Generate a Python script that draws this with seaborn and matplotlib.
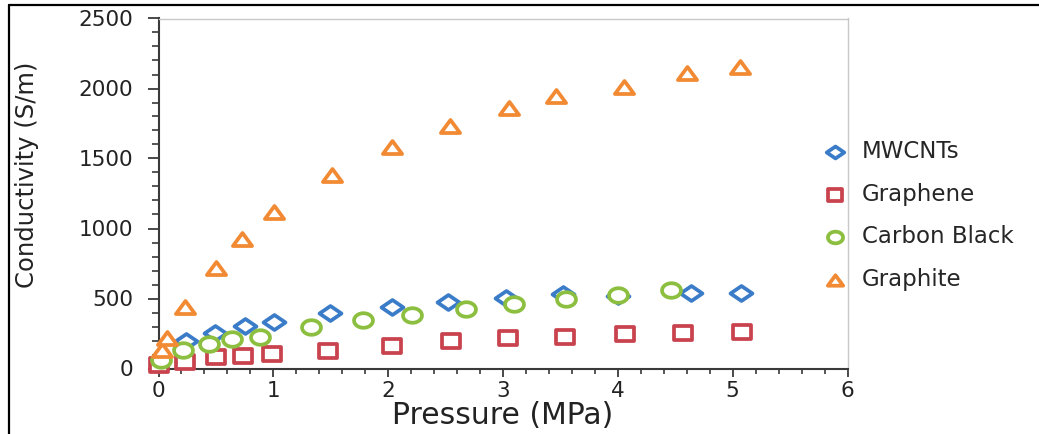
import numpy as np
import pandas as pd
import matplotlib
matplotlib.use("Agg")
import matplotlib.pyplot as plt
from matplotlib.path import Path
from matplotlib.ticker import MultipleLocator
from matplotlib.lines import Line2D
import seaborn as sns

# ---- data ----
series_names = ["MWCNTs", "Graphene", "Carbon Black", "Graphite"]

pressure_mwcnt = [0.24, 0.49, 0.75, 1.01, 1.49, 2.03, 2.52, 3.03, 3.52, 4.00, 4.64, 5.07]
cond_mwcnt = [199, 254, 304, 334, 397, 442, 478, 502, 530, 520, 540, 542]

pressure_graphene = [0.00, 0.23, 0.50, 0.74, 0.99, 1.48, 2.03, 2.55, 3.04, 3.54, 4.06, 4.57, 5.08]
cond_graphene = [25, 49, 80, 89, 104, 127, 163, 199, 216, 228, 245, 257, 263]

pressure_cb = [0.02, 0.21, 0.44, 0.64, 0.88, 1.33, 1.78, 2.21, 2.68, 3.10, 3.55, 4.00, 4.46]
cond_cb = [61, 132, 175, 211, 228, 295, 347, 383, 423, 459, 495, 526, 562]

pressure_graphite = [0.03, 0.07, 0.23, 0.50, 0.73, 1.01, 1.51, 2.03, 2.54, 3.05, 3.46, 4.05, 4.60, 5.06]
cond_graphite = [132, 218, 440, 717, 926, 1119, 1384, 1584, 1735, 1864, 1943, 2014, 2114, 2157]

x_ticks = [0, 1, 2, 3, 4, 5, 6]
y_ticks = [0, 500, 1000, 1500, 2000, 2500]

# ---- styles ----
colors = {"MWCNTs": "#3b7cc8", "Graphene": "#c9434e",
          "Carbon Black": "#8cbf40", "Graphite": "#f28a34"}

def poly(verts):
    v = list(verts) + [verts[0]]
    codes = [Path.MOVETO] + [Path.LINETO] * (len(verts) - 1) + [Path.CLOSEPOLY]
    return Path(v, codes)

t = np.linspace(0, 2 * np.pi, 60, endpoint=False)
ellipse = poly([(1.0 * np.cos(a), 0.77 * np.sin(a)) for a in t])
markers = {
    "MWCNTs": poly([(0, 0.68), (1.0, 0), (0, -0.68), (-1.0, 0)]),
    "Graphene": poly([(-1.0, -0.85), (1.0, -0.85), (1.0, 0.85), (-1.0, 0.85)]),
    "Carbon Black": ellipse,
    "Graphite": poly([(0, 0.68), (-1.0, -0.68), (1.0, -0.68)]),
}
sizes = {"MWCNTs": 250, "Graphene": 150, "Carbon Black": 185, "Graphite": 190}

df = pd.concat([
    pd.DataFrame({"Pressure": pressure_mwcnt, "Conductivity": cond_mwcnt, "Material": "MWCNTs"}),
    pd.DataFrame({"Pressure": pressure_graphene, "Conductivity": cond_graphene, "Material": "Graphene"}),
    pd.DataFrame({"Pressure": pressure_cb, "Conductivity": cond_cb, "Material": "Carbon Black"}),
    pd.DataFrame({"Pressure": pressure_graphite, "Conductivity": cond_graphite, "Material": "Graphite"}),
], ignore_index=True)

sns.set_theme(style="white")
plt.rcParams["font.family"] = ["DejaVu Sans"]

fig = plt.figure(figsize=(10.39, 4.34), dpi=100)
ax = fig.add_axes([158.5 / 1039, 1 - 368.5 / 434, 689 / 1039, 350 / 434])

for name in series_names:
    sub = df[df["Material"] == name]
    sns.scatterplot(data=sub, x="Pressure", y="Conductivity", ax=ax,
                    marker=markers[name], s=sizes[name], color=colors[name],
                    facecolor="white", edgecolor=colors[name], linewidth=2.7,
                    label=name, zorder=3, clip_on=False)

ax.set_xlim(0, 6)
ax.set_ylim(0, 2500)
ax.set_xticks(x_ticks)
ax.set_yticks(y_ticks)
ax.xaxis.set_minor_locator(MultipleLocator(0.2))
ax.yaxis.set_minor_locator(MultipleLocator(100))

for side in ["left", "bottom"]:
    ax.spines[side].set_color("#3a3a3a")
    ax.spines[side].set_linewidth(1.5)
for side in ["top", "right"]:
    ax.spines[side].set_color("#c8c8c8")
    ax.spines[side].set_linewidth(1.0)

ax.tick_params(axis="y", which="major", direction="out", length=8, width=1.3,
               color="#3a3a3a", labelsize=15.5, labelcolor="#222222", pad=10, left=True)
ax.tick_params(axis="y", which="minor", direction="out", length=5, width=1.2,
               color="#3a3a3a", left=True)
ax.tick_params(axis="x", which="major", direction="out", length=6, width=1.3,
               color="#3a3a3a", labelsize=15.5, labelcolor="#222222", pad=3, bottom=True)
ax.tick_params(axis="x", which="minor", direction="out", length=3.5, width=1.2,
               color="#3a3a3a", bottom=True)

ax.set_xlabel("Pressure (MPa)", fontsize=21.5, color="#222222")
ax.set_ylabel("Conductivity (S/m)", fontsize=17.5, color="#222222")
ax.xaxis.label.set_va("center")
ax.yaxis.label.set_va("center")
ax.xaxis.set_label_coords(0.5, (368.5 - 416) / 350)
ax.yaxis.set_label_coords((27 - 158.5) / 689, (368.5 - 175) / 350)

ax.legend(loc="center left", bbox_to_anchor=(824 / 1039, 1 - 215.5 / 434),
          bbox_transform=fig.transFigure, frameon=False, fontsize=16.5,
          handlelength=1.0, handletextpad=0.65, labelspacing=0.85,
          borderpad=0, borderaxespad=0, markerscale=0.8)

# outer frame of the picture (top and left edges)
fig.add_artist(Line2D([9 / 1039, 1.0], [1 - 5 / 434, 1 - 5 / 434],
                      transform=fig.transFigure, color="black", linewidth=1.6))
fig.add_artist(Line2D([9 / 1039, 9 / 1039], [0.0, 1 - 5 / 434],
                      transform=fig.transFigure, color="black", linewidth=1.6))

fig.savefig("out.png", dpi=100, facecolor="white")
